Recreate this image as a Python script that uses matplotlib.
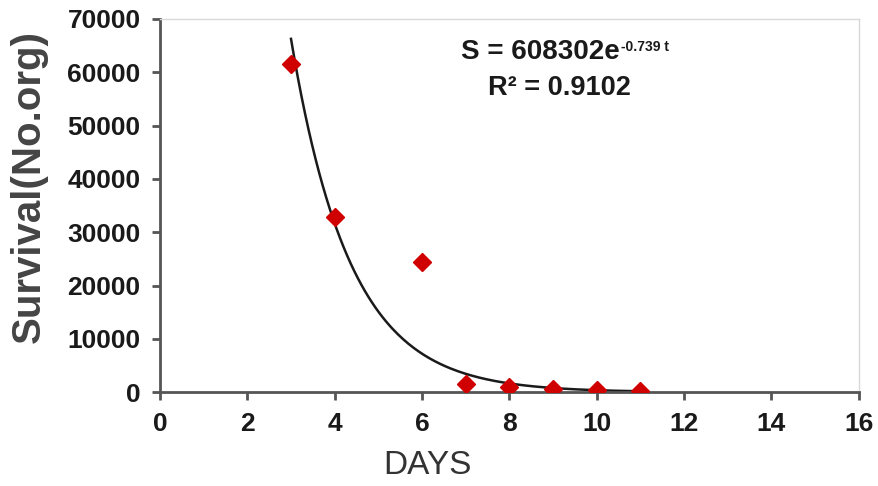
import numpy as np
import matplotlib.pyplot as plt

days = [3, 4, 6, 7, 8, 9, 10, 11]
survival = [61500, 32800, 24500, 1500, 1000, 600, 500, 200]

# trendline from the printed equation
a_coef = 608302
k_coef = 0.739
fit_t = np.linspace(3, 11, 200)
fit_s = a_coef * np.exp(-k_coef * fit_t)

xticks = np.arange(0, 17, 2)
yticks = np.arange(0, 70001, 10000)

plt.rcParams['font.family'] = ['Liberation Sans', 'DejaVu Sans']

fig = plt.figure(figsize=(8.79, 4.86), dpi=100)
ax = fig.add_axes([0.182, 0.193, 0.795, 0.768])

ax.plot(fit_t, fit_s, color='#1a1a1a', lw=1.8, zorder=2)
ax.plot(days, survival, 'D', color='#d00000', ms=9, mec='#d00000', zorder=3)

ax.set_xlim(0, 16)
ax.set_ylim(0, 70000)
ax.set_xticks(xticks)
ax.set_yticks(yticks)
ax.tick_params(axis='both', direction='out', length=6, width=2, color='#555555',
               labelsize=19, pad=8)
for lab in ax.get_xticklabels() + ax.get_yticklabels():
    lab.set_fontweight('bold')
    lab.set_color('#1a1a1a')

for side in ['left', 'bottom']:
    ax.spines[side].set_color('#555555')
    ax.spines[side].set_linewidth(2)
for side in ['top', 'right']:
    ax.spines[side].set_color('#d9d9d9')
    ax.spines[side].set_linewidth(1)

ax.set_ylabel('Survival(No.org)', fontsize=29, fontweight='bold', color='#444444',
              va='center')
ax.yaxis.set_label_coords(-0.188, 0.552)
ax.set_xlabel('DAYS', fontsize=24, color='#333333', va='center')
ax.xaxis.set_label_coords(0.383, -0.196)

t1 = ax.text(0.544, 0.912, 'S = 608302e', transform=ax.transAxes, fontsize=20,
             fontweight='bold', ha='center', va='center', color='#1a1a1a')
ax.annotate('-0.739 t', xy=(1.0, 0.95), xycoords=t1, xytext=(1, 0),
            textcoords='offset points', fontsize=10, fontweight='bold',
            ha='left', va='top', color='#1a1a1a')
ax.text(0.572, 0.815, 'R² = 0.9102', transform=ax.transAxes, fontsize=19.5,
        fontweight='bold', ha='center', va='center', color='#1a1a1a')

fig.savefig('out.png', dpi=100, facecolor='white')
